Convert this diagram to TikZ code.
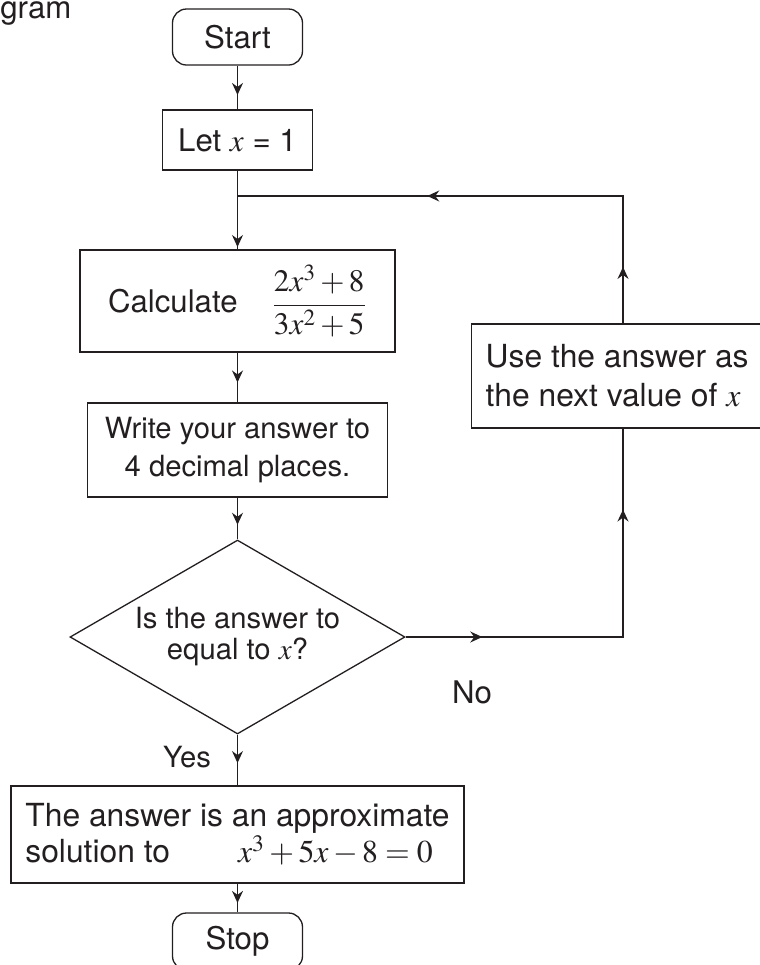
\documentclass[tikz,border=0pt]{standalone}
\usepackage{mathptmx}
\usepackage[no-math]{fontspec}
\setmainfont{TeX Gyre Heros}
\usetikzlibrary{shapes.geometric, arrows.meta, decorations.markings}

\definecolor{ink}{RGB}{35,31,32}
\newcommand{\boxfont}{\fontsize{15.6}{19.5}\selectfont}
\newcommand{\notefont}{\fontsize{14.6}{19}\selectfont}

\tikzset{
    block/.style={draw=ink, text=ink, line width=0.65pt, inner sep=0pt, font=\boxfont},
    term/.style={block, rounded corners=7pt, minimum width=65pt, minimum height=28pt},
    decision/.style={block, diamond, aspect=1.73},
    flow/.style={draw=ink, line width=0.65pt},
    arrowat/.style={postaction={decorate, decoration={markings,
        mark=at position #1 with {\arrow{Stealth[length=6pt, width=5.5pt, inset=2pt]}}}}}
}

\begin{document}
\begin{tikzpicture}[x=0.5pt, y=-0.5pt]

    \useasboundingbox (0,0) rectangle (760,965);
    \clip (0,0) rectangle (760,965);

    % Titolo tagliato
    \node[anchor=base west, inner sep=0pt, text=ink, font=\boxfont] (caption) at (0,18) {gram};

    % Blocchi
    \node[term] (start) at (237.5,37) {Start};
    \node[block, minimum width=75pt, minimum height=30pt] (let) at (237.5,140) {Let $x$ = 1};
    \node[block, minimum width=157.5pt, minimum height=51pt] (calc) at (237.5,301)
        {Calculate\hspace{17pt}$\displaystyle\frac{2x^3+8}{3x^2+5}$\hspace{19pt}};
    \node[block, minimum width=150pt, minimum height=47pt, align=center, font=\notefont]
        (write) at (237.5,450) {Write your answer to\\4 decimal places.};
    \node[decision, minimum width=167.5pt, minimum height=97pt, align=center,
        font=\fontsize{14.6}{15.5}\selectfont] (test) at (237.5,637) {Is the answer to\\equal to $x$?};
    \node[block, anchor=west, minimum width=145.5pt, minimum height=52pt, align=left,
        font=\fontsize{15.9}{19.5}\selectfont] (use) at (471,376) {Use the answer as\\the next value of $x$};
    \node[block, minimum width=226.5pt, minimum height=48.5pt, align=left,
        font=\fontsize{15.9}{15}\selectfont] (final) at (237.5,834.5)
        {The answer is an approximate\\solution to\hspace{34pt}$x^3+5x-8=0$};
    \node[term, minimum height=28.5pt] (stop) at (237.5,941.5) {Stop};

    % Etichette
    \node[text=ink, font=\notefont] (yes) at (187,757) {Yes};
    \node[text=ink, font=\boxfont] (no) at (472,692) {No};

    % Punti del ciclo
    \coordinate (join) at (237.5,196);
    \coordinate (rail) at (623,0);

    % Frecce
    \draw[flow, arrowat=0.67] (start) -- (let);
    \draw[flow, arrowat=0.97] (let) -- (calc);
    \draw[flow, arrowat=0.6] (calc) -- (write);
    \draw[flow, arrowat=0.65] (write) -- (test);
    \draw[flow, arrowat=0.56] (test) -- (final);
    \draw[flow, arrowat=0.67] (final) -- (stop);
    \draw[flow, arrowat=0.18, arrowat=0.81] (test.east) -- (test.east -| rail) -- (rail |- use.south);
    \draw[flow, arrowat=0.11, arrowat=0.63] (rail |- use.north) -- (rail |- join) -- (join);

\end{tikzpicture}
\end{document}
